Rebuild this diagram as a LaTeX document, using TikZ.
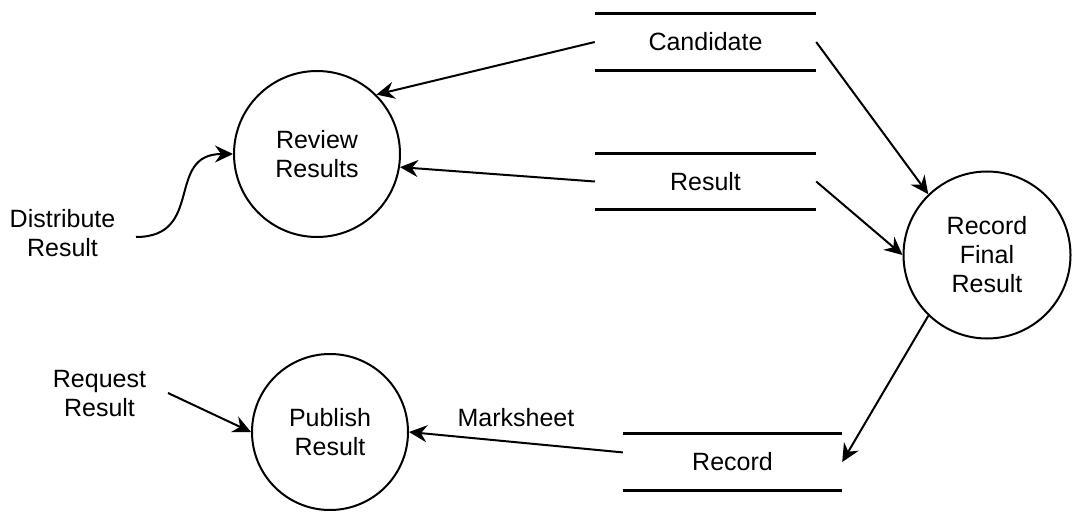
\documentclass[tikz,border=0pt]{standalone}
\usepackage{fontspec}
\setmainfont{Liberation Sans}
\usetikzlibrary{arrows.meta}
\newcommand\dfdfont{\fontsize{25}{29}\selectfont}
\tikzset{
  proc/.style={circle, draw, line width=2pt, inner sep=0pt, align=center, font=\dfdfont},
  store/.style={minimum height=56pt, inner sep=0pt, font=\dfdfont},
  storeline/.style={line width=3pt},
  txt/.style={align=center, inner sep=0pt, font=\dfdfont},
  flow/.style={line width=2pt, arrows={-Stealth[length=18pt, width=17pt, inset=6pt]}}
}
\begin{document}
\begin{tikzpicture}
\begin{scope}[x=1pt,y=-1pt]
\useasboundingbox (0,0) rectangle (1076,513);

% processes
\node[proc, minimum size=166pt] (rev) at (317,154) {Review\\Results};
\node[proc, minimum size=167pt] (rf) at (987,255) {Record\\Final\\Result};
\node[proc, minimum size=156pt] (pub) at (330,432) {Publish\\Result};

% data stores
\node[store, minimum width=221pt] (cand) at (705.5,42) {Candidate};
\node[store, minimum width=221pt] (res) at (705.5,181.5) {Result};
\node[store, minimum width=219pt] (rec) at (732.5,462) {Record};
\foreach \s in {cand,res,rec}{
  \draw[storeline] (\s.north west) -- (\s.north east) (\s.south west) -- (\s.south east);
}

% external texts
\node[txt] (dist) at (62.5,233.5) {Distribute\\Result};
\node[txt] (req) at (99.5,393.5) {Request\\Result};
\coordinate (distc) at (136,237);
\coordinate (reqc) at (168,393);

% flows
\draw[flow] (cand.west) -- (rev.45);
\draw[flow] (res.west) -- (rev.-9);
\draw[flow] (cand.east) -- (rf.134);
\draw[flow] (res.east) -- (rf.180);
\draw[flow] (rf.226) -- (rec.east);
\draw[flow] (rec.175) -- node[midway, above=14pt, inner sep=0pt, font=\dfdfont] (mk) {Marksheet} (pub.east);
\draw[flow] (reqc) -- (pub.west);
\draw[flow] (distc) .. controls (205,237) and (165,154) .. (rev.west);
\end{scope}
\end{tikzpicture}
\end{document}
